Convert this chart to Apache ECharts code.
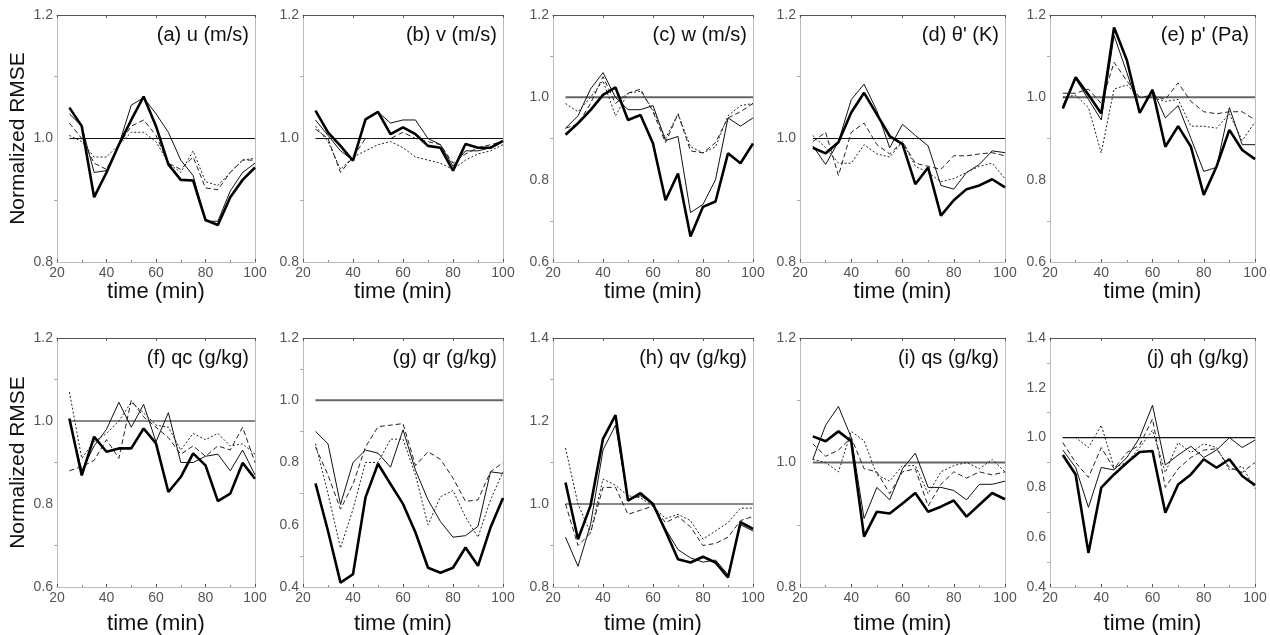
<!DOCTYPE html>
<html>
<head>
<meta charset="utf-8">
<script src="https://cdn.jsdelivr.net/npm/echarts@6/dist/echarts.min.js"></script>
<style>
  html, body { margin: 0; background: #fff; }
  #chart { width: 1270px; height: 635px; }
</style>
</head>
<body>
<div id="chart"></div>
<script>
// forecast times (min)
const times = [25, 30, 35, 40, 45, 50, 55, 60, 65, 70, 75, 80, 85, 90, 95, 100]

const panelTitles = ['(a) u (m/s)', '(b) v (m/s)', '(c) w (m/s)', "(d) θ' (K)", "(e) p' (Pa)",
  '(f) qc (g/kg)', '(g) qr (g/kg)', '(h) qv (g/kg)', '(i) qs (g/kg)', '(j) qh (g/kg)']
const yMins = [0.8, 0.8, 0.6, 0.8, 0.6, 0.6, 0.4, 0.8, 0.8, 0.4]
const yMaxs = [1.2, 1.2, 1.2, 1.2, 1.2, 1.2, 1.2, 1.4, 1.2, 1.4]

// (a) u
const uThick = [1.05, 1.02, 0.905, 0.945, 0.99, 1.03, 1.068, 1.02, 0.958, 0.933, 0.932, 0.868, 0.86, 0.905, 0.933, 0.953]
const uThin = [1.04, 1.02, 0.945, 0.948, 0.99, 1.054, 1.066, 1.04, 1.01, 0.965, 0.94, 0.866, 0.866, 0.915, 0.945, 0.96]
const uDash = [1.025, 1.0, 0.96, 0.95, 0.99, 1.02, 1.03, 1.005, 0.96, 0.95, 0.97, 0.92, 0.917, 0.945, 0.965, 0.965]
const uDot = [1.005, 0.995, 0.97, 0.97, 0.99, 1.01, 1.01, 0.995, 0.96, 0.945, 0.98, 0.93, 0.924, 0.945, 0.965, 0.968]
// (b) v
const vThick = [1.045, 1.01, 0.988, 0.964, 1.031, 1.043, 1.007, 1.018, 1.007, 0.988, 0.985, 0.948, 0.991, 0.985, 0.985, 0.996]
const vThin = [1.03, 1.005, 0.98, 0.965, 1.03, 1.043, 1.025, 1.03, 1.03, 1.0, 0.99, 0.955, 0.98, 0.98, 0.985, 0.995]
const vDash = [1.015, 1.0, 0.945, 0.97, 1.0, 1.0, 1.0, 1.01, 1.0, 0.995, 0.99, 0.96, 0.975, 0.985, 0.99, 0.995]
const vDot = [1.02, 0.995, 0.95, 0.97, 0.98, 0.99, 0.995, 0.985, 0.97, 0.965, 0.96, 0.95, 0.965, 0.975, 0.98, 0.99]
// (c) w
const wThick = [0.909, 0.937, 0.969, 1.006, 1.024, 0.945, 0.957, 0.888, 0.75, 0.815, 0.662, 0.734, 0.747, 0.864, 0.84, 0.888]
const wThin = [0.925, 0.955, 1.02, 1.06, 1.0, 0.97, 0.97, 0.98, 0.895, 0.905, 0.72, 0.74, 0.8, 0.95, 0.93, 0.95]
const wDash = [0.925, 0.935, 0.985, 1.05, 0.985, 1.01, 1.02, 0.965, 0.89, 0.96, 0.87, 0.865, 0.89, 0.95, 0.965, 0.985]
const wDot = [0.985, 0.965, 1.0, 1.04, 0.955, 1.01, 1.015, 0.97, 0.9, 0.96, 0.88, 0.865, 0.88, 0.955, 0.98, 0.985]
// (d) theta'
const thThick = [0.985, 0.976, 0.994, 1.042, 1.074, 1.039, 1.004, 0.991, 0.926, 0.953, 0.875, 0.9, 0.918, 0.924, 0.934, 0.921]
const thThin = [0.988, 0.958, 0.995, 1.063, 1.088, 1.045, 0.985, 1.023, 1.005, 0.988, 0.924, 0.918, 0.945, 0.958, 0.98, 0.977]
const thDash = [0.995, 1.01, 0.94, 1.01, 1.025, 0.99, 0.975, 0.995, 0.96, 0.955, 0.95, 0.972, 0.972, 0.975, 0.977, 0.972]
const thDot = [1.005, 0.985, 0.96, 0.96, 0.99, 0.975, 0.97, 0.995, 0.955, 0.945, 0.93, 0.935, 0.945, 0.955, 0.96, 0.935]
// (e) p'
const pThick = [0.973, 1.049, 1.006, 0.961, 1.17, 1.09, 0.962, 1.018, 0.88, 0.93, 0.88, 0.763, 0.832, 0.921, 0.872, 0.85]
const pThin = [0.98, 1.045, 0.995, 0.945, 1.15, 1.06, 0.965, 1.02, 0.95, 0.98, 0.9, 0.82, 0.83, 0.975, 0.885, 0.885]
const pDash = [1.01, 1.01, 1.02, 0.985, 1.085, 1.04, 1.0, 1.005, 0.995, 1.035, 0.99, 0.965, 0.96, 0.965, 0.965, 0.945]
const pDot = [1.0, 1.005, 0.975, 0.865, 1.02, 1.03, 1.0, 1.0, 0.99, 0.995, 0.93, 0.93, 0.925, 0.96, 0.895, 0.94]
// (f) qc
const qcThick = [1.006, 0.869, 0.962, 0.926, 0.934, 0.934, 0.982, 0.946, 0.829, 0.865, 0.922, 0.893, 0.807, 0.825, 0.899, 0.861]
const qcThin = [1.0, 0.88, 0.94, 0.98, 1.045, 0.985, 1.04, 0.95, 1.02, 0.9, 0.9, 0.915, 0.92, 0.88, 0.93, 0.87]
const qcDash = [0.88, 0.89, 0.905, 0.955, 0.91, 1.05, 1.01, 0.985, 0.96, 0.92, 0.94, 0.915, 0.94, 0.93, 0.985, 0.9]
const qcDot = [1.07, 0.91, 0.95, 0.97, 1.0, 1.045, 1.02, 0.99, 0.985, 0.93, 0.97, 0.955, 0.97, 0.94, 0.945, 0.92]
// (g) qr
const qrThick = [0.733, 0.58, 0.414, 0.441, 0.688, 0.796, 0.731, 0.667, 0.575, 0.462, 0.446, 0.462, 0.527, 0.468, 0.591, 0.686]
const qrThin = [0.9, 0.86, 0.665, 0.8, 0.84, 0.83, 0.785, 0.905, 0.775, 0.68, 0.61, 0.56, 0.565, 0.595, 0.77, 0.765]
const qrDash = [0.85, 0.76, 0.65, 0.73, 0.85, 0.915, 0.92, 0.925, 0.79, 0.835, 0.81, 0.75, 0.675, 0.68, 0.77, 0.8]
const qrDot = [0.86, 0.7, 0.525, 0.65, 0.8, 0.8, 0.875, 0.875, 0.76, 0.6, 0.69, 0.71, 0.625, 0.56, 0.68, 0.77]
// (h) qv
const qvThick = [1.052, 0.915, 0.996, 1.157, 1.214, 1.008, 1.026, 1.0, 0.935, 0.867, 0.859, 0.873, 0.859, 0.823, 0.956, 0.94]
const qvThin = [0.92, 0.85, 0.95, 1.13, 1.19, 1.01, 1.02, 1.0, 0.94, 0.89, 0.87, 0.86, 0.865, 0.83, 0.95, 0.935]
const qvDash = [1.0, 0.9, 0.93, 1.04, 1.04, 0.975, 0.985, 0.995, 0.955, 0.97, 0.945, 0.9, 0.905, 0.92, 0.96, 0.97]
const qvDot = [1.135, 1.0, 0.93, 1.06, 1.045, 1.02, 1.015, 0.995, 0.965, 0.975, 0.96, 0.915, 0.935, 0.955, 0.99, 0.99]
// (i) qs
const qsThick = [1.042, 1.034, 1.05, 1.034, 0.881, 0.921, 0.918, 0.934, 0.951, 0.921, 0.929, 0.939, 0.913, 0.932, 0.951, 0.941]
const qsThin = [1.005, 1.06, 1.09, 1.04, 0.91, 0.96, 0.94, 0.99, 1.015, 0.96, 0.96, 0.955, 0.94, 0.965, 0.965, 0.97]
const qsDash = [1.03, 1.01, 1.02, 1.04, 0.99, 0.985, 0.95, 0.985, 0.99, 0.93, 0.965, 0.985, 0.975, 0.985, 0.98, 0.985]
const qsDot = [1.005, 1.0, 0.985, 1.05, 1.035, 0.98, 0.97, 0.995, 0.995, 0.95, 0.985, 0.995, 1.0, 0.99, 1.005, 0.985]
// (j) qh
const qhThick = [0.93, 0.852, 0.537, 0.799, 0.852, 0.899, 0.942, 0.946, 0.698, 0.812, 0.852, 0.913, 0.879, 0.913, 0.846, 0.809]
const qhThin = [0.95, 0.88, 0.72, 0.88, 0.87, 0.92, 1.0, 1.13, 0.89, 0.93, 0.965, 0.92, 0.95, 1.0, 0.96, 0.99]
const qhDash = [0.98, 0.9, 0.84, 0.96, 0.875, 0.94, 0.97, 1.075, 0.8, 0.875, 0.92, 0.95, 0.955, 0.88, 0.86, 0.9]
const qhDot = [1.0, 1.0, 0.96, 1.05, 0.88, 0.9, 0.96, 1.03, 0.86, 0.98, 0.94, 0.975, 0.96, 0.87, 0.885, 0.795]

const panelData = [
  [uThick, uThin, uDash, uDot],
  [vThick, vThin, vDash, vDot],
  [wThick, wThin, wDash, wDot],
  [thThick, thThin, thDash, thDot],
  [pThick, pThin, pDash, pDot],
  [qcThick, qcThin, qcDash, qcDot],
  [qrThick, qrThin, qrDash, qrDot],
  [qvThick, qvThin, qvDash, qvDot],
  [qsThick, qsThin, qsDash, qsDot],
  [qhThick, qhThin, qhDash, qhDot]
]

const colLeft = [57, 303, 553, 800, 1050]
const colWidth = [198, 200, 200, 205, 205]
const rowTop = [15, 338]
const rowHeight = [247, 249]
const rowNameGap = [17, 26]
// reference line at 1.0 drawn grey in some panels
const refGrey = [false, false, true, false, true, false, true, false, true, false]

const lineStyles = [
  { color: '#000', width: 2.6, type: 'solid' },
  { color: '#111', width: 1, type: 'solid' },
  { color: '#222', width: 1, type: [5, 3] },
  { color: '#222', width: 1, type: [2, 2] }
]

const chart = echarts.init(document.getElementById('chart'))

const grid = []
const xAxis = []
const yAxis = []
const series = []
const title = []

panelTitles.forEach((name, i) => {
  const r = Math.floor(i / 5)
  const c = i % 5
  grid.push({
    left: colLeft[c], top: rowTop[r], width: colWidth[c], height: rowHeight[r],
    outerBoundsMode: 'none'
  })
  title.push({
    text: name,
    right: 1270 - colLeft[c] - colWidth[c] + 1,
    top: rowTop[r] + 5,
    textStyle: { fontFamily: 'Liberation Sans', fontSize: 20, fontWeight: 'normal', color: '#111' }
  })
  // bottom x axis
  xAxis.push({
    gridIndex: i, type: 'value', min: 20, max: 100, interval: 20,
    name: 'time (min)', nameLocation: 'middle', nameGap: rowNameGap[r],
    nameTextStyle: { fontFamily: 'Liberation Sans', fontSize: 22, color: '#111' },
    axisLine: { lineStyle: { color: '#bbb' } },
    axisTick: { inside: true, length: 3, lineStyle: { color: '#555' } },
    minorTick: { show: true, splitNumber: 2, length: 2, lineStyle: { color: '#888' } },
    axisLabel: { margin: 4, fontFamily: 'Liberation Sans', fontSize: 14, color: '#555' },
    splitLine: { show: false }
  })
  // top frame
  xAxis.push({
    gridIndex: i, type: 'value', position: 'top', min: 20, max: 100, interval: 20,
    axisLine: { onZero: false, lineStyle: { color: '#555' } },
    axisTick: { inside: true, length: 3, lineStyle: { color: '#555' } },
    axisLabel: { show: false }, splitLine: { show: false }
  })
  yAxis.push({
    gridIndex: i, type: 'value', min: yMins[i], max: yMaxs[i], interval: 0.2,
    name: c === 0 ? 'Normalized RMSE' : '', nameLocation: 'middle', nameGap: 28,
    nameTextStyle: { fontFamily: 'Liberation Sans', fontSize: 21, color: '#111' },
    axisLine: { show: true, onZero: false, lineStyle: { color: '#bbb' } },
    axisTick: { show: false },
    minorTick: { show: true, splitNumber: 2, length: 3, lineStyle: { color: '#aaa' } },
    axisLabel: { margin: 4, fontFamily: 'Liberation Sans', fontSize: 14, color: '#555',
      formatter: v => v.toFixed(1) },
    splitLine: { show: false }
  })
  yAxis.push({
    gridIndex: i, type: 'value', position: 'right', min: yMins[i], max: yMaxs[i], interval: 0.2,
    axisLine: { show: true, onZero: false, lineStyle: { color: '#bbb' } },
    axisTick: { show: false }, axisLabel: { show: false }, splitLine: { show: false }
  })

  series.push({
    type: 'line', xAxisIndex: 2 * i, yAxisIndex: 2 * i, symbol: 'none', silent: true,
    data: [[times[0], 1], [times[times.length - 1], 1]],
    lineStyle: refGrey[i] ? { color: '#666', width: 2 } : { color: '#111', width: 1.2 }
  })
  panelData[i].forEach((vals, k) => {
    series.push({
      type: 'line', xAxisIndex: 2 * i, yAxisIndex: 2 * i, symbol: 'none', silent: true,
      data: times.map((t, j) => [t, vals[j]]),
      lineStyle: lineStyles[k], z: 3 + (k === 0 ? 2 : 0)
    })
  })
})

chart.setOption({
  animation: false,
  backgroundColor: '#fff',
  title: title,
  grid: grid,
  xAxis: xAxis,
  yAxis: yAxis,
  series: series
})
</script>
</body>
</html>
